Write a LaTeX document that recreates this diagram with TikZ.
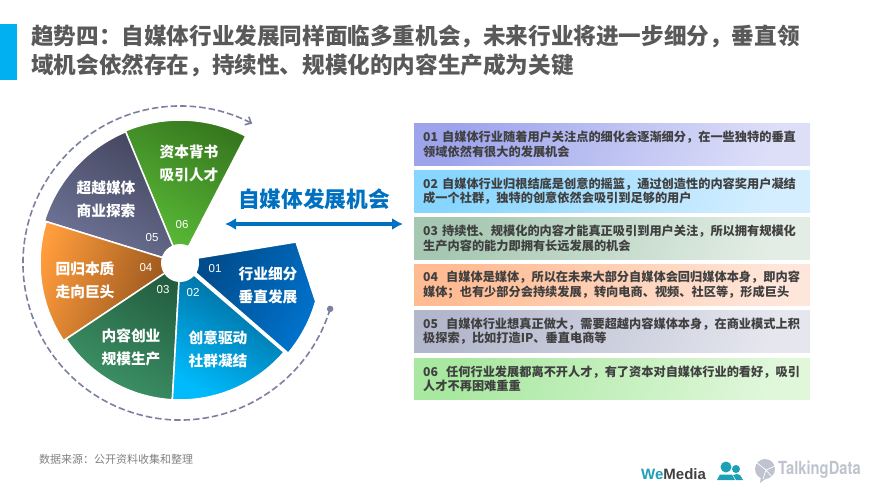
\documentclass[tikz,border=0pt]{standalone}
\usepackage{fontspec}
\setmainfont{Noto Sans CJK SC}
\newfontfamily\numfont{Liberation Sans}
\newfontfamily\logofont{TeX Gyre Heros}
\usetikzlibrary{arrows.meta}
\definecolor{titlegray}{HTML}{595959}
\definecolor{bodygray}{HTML}{404040}
\definecolor{barblue}{HTML}{00B0F0}
\definecolor{headblue}{HTML}{0070C0}
\definecolor{ringgray}{HTML}{7C80A0}
\definecolor{weteal}{HTML}{1D9FB5}
\definecolor{tdgray}{HTML}{BFC3D0}
% wheel colours
\definecolor{wedgeAa}{HTML}{004C8C}\definecolor{wedgeAb}{HTML}{0072CC}
\definecolor{wedgeBa}{HTML}{006090}\definecolor{wedgeBb}{HTML}{00BAFB}
\definecolor{wedgeCa}{HTML}{235E40}\definecolor{wedgeCb}{HTML}{3E9468}
\definecolor{wedgeDa}{HTML}{FF9C3C}\definecolor{wedgeDb}{HTML}{8E4F1A}
\definecolor{wedgeEa}{HTML}{44465E}\definecolor{wedgeEb}{HTML}{70769A}
\definecolor{wedgeFa}{HTML}{37781F}\definecolor{wedgeFb}{HTML}{5CC038}
% box colours
\definecolor{boxAa}{HTML}{9DA4EC}\definecolor{boxAb}{HTML}{DDDFF8}
\definecolor{boxBa}{HTML}{87D6FF}\definecolor{boxBb}{HTML}{D5EEFF}
\definecolor{boxCa}{HTML}{A6C8B2}\definecolor{boxCb}{HTML}{E3EDE5}
\definecolor{boxDa}{HTML}{FFBB92}\definecolor{boxDb}{HTML}{FFE6DA}
\definecolor{boxEa}{HTML}{B3B7CC}\definecolor{boxEb}{HTML}{E5E6EE}
\definecolor{boxFa}{HTML}{A8E8A0}\definecolor{boxFb}{HTML}{E0F7DA}
\tikzset{
    wedge/.style n args={3}{left color=#1, right color=#2, shading angle=#3, draw=white, line width=1.5pt},
    wedgetext/.style={text=white, align=center, inner sep=0pt, font=\fontsize{14.7}{23}\selectfont\bfseries},
    wedgenum/.style={text=white, inner sep=0pt, font=\fontsize{11.5}{14}\selectfont\numfont},
    chance/.style n args={3}{left color=#1, right color=#2, shading angle=70, anchor=north west,
        minimum height=#3, text width=378pt, inner xsep=9pt, inner ysep=0pt, align=left,
        text=bodygray, font=\fontsize{12.2}{14.5}\selectfont\bfseries}
}
\begin{document}
\begin{tikzpicture}[x=1pt, y=1pt]
    \useasboundingbox (0,0) rectangle (880,-495);

    % Title
    \fill[barblue] (0,-24) rectangle (17,-80);
    \node[anchor=west, inner sep=0pt, align=left, text=titlegray, font=\fontsize{22.6}{29}\selectfont\bfseries] (title) at (31,-51)
        {趋势四：自媒体行业发展同样面临多重机会，未来行业将进一步细分，垂直领\\
         域机会依然存在，持续性、规模化的内容生产成为关键};

    % Wheel
    \begin{scope}[shift={(180,-263)}]
        \shade[wedge={wedgeFa}{wedgeFb}{-30}] (0,0) -- (112.5:143) arc (112.5:62.6:143) -- cycle;
        \shade[wedge={wedgeEa}{wedgeEb}{-30}] (0,0) -- (162.8:142) arc (162.8:112.5:142) -- cycle;
        \shade[wedge={wedgeDa}{wedgeDb}{70}] (0,0) -- (213.7:140) arc (213.7:162.8:140) -- cycle;
        \shade[wedge={wedgeCa}{wedgeCb}{-30}] (0,0) -- (266.8:137) arc (266.8:213.7:137) -- cycle;
        \shade[wedge={wedgeBa}{wedgeBb}{-30}] (0,0) -- (319.4:137) arc (319.4:266.8:137) -- cycle;
        \shade[wedge={wedgeAa}{wedgeAb}{60}] (18,5) -- (116,21) -- (135.7,-38.3) arc (-15.8:-40:140) -- (16,-10) -- cycle;
        \node[circle, fill=white, minimum size=38pt, inner sep=0pt] (hub) at (0,0) {};

        % Dashed ring
        \node[circle, fill=ringgray, minimum size=6.5pt, inner sep=0pt] (ringstart) at (-17:157) {};
        \coordinate (ringend) at (62.6:157);
        \draw[ringgray, line width=1.6pt, dash pattern=on 6.5pt off 3pt, -{Straight Barb[length=5pt,width=9pt]}]
            (ringstart.center) arc (-17:-297.4:157);
    \end{scope}

    % Wheel labels
    \node[wedgetext] (capA) at (268,-285.5) {行业细分\\垂直发展};
    \node[wedgetext] (capB) at (218,-349.5) {创意驱动\\社群凝结};
    \node[wedgetext] (capC) at (131,-347.5) {内容创业\\规模生产};
    \node[wedgetext] (capD) at (85,-280.5) {回归本质\\走向巨头};
    \node[wedgetext] (capE) at (106,-199) {超越媒体\\商业探索};
    \node[wedgetext] (capF) at (189,-163.5) {资本背书\\吸引人才};
    \node[wedgenum] (numA) at (215,-269) {01};
    \node[wedgenum] (numB) at (193,-293) {02};
    \node[wedgenum] (numC) at (163,-290) {03};
    \node[wedgenum] (numD) at (146,-268) {04};
    \node[wedgenum] (numE) at (152,-238) {05};
    \node[wedgenum] (numF) at (182,-225) {06};

    % Heading with double arrow
    \node[inner sep=0pt, text=headblue, font=\fontsize{21.7}{26}\selectfont\bfseries] (head) at (314,-199) {自媒体发展机会};
    \coordinate (arrowL) at (225,-224);
    \coordinate (arrowR) at (403,-224);
    \draw[headblue, line width=3.5pt, {Latex[length=11pt,width=12pt]}-{Latex[length=11pt,width=12pt]}] (arrowL) -- (arrowR);

    % Boxes
    \node[chance={boxAa}{boxAb}{42pt}] (boxA) at (414,-123) {01 自媒体行业随着用户关注点的细化会逐渐细分，在一些独特的垂直\\领域依然有很大的发展机会};
    \node[chance={boxBa}{boxBb}{42pt}] (boxB) at (414,-170) {02 自媒体行业归根结底是创意的摇篮，通过创造性的内容奖用户凝结\\成一个社群，独特的创意依然会吸引到足够的用户};
    \node[chance={boxCa}{boxCb}{42pt}] (boxC) at (414,-217) {03 持续性、规模化的内容才能真正吸引到用户关注，所以拥有规模化\\生产内容的能力即拥有长远发展的机会};
    \node[chance={boxDa}{boxDb}{41pt}] (boxD) at (414,-264) {04 \ 自媒体是媒体，所以在未来大部分自媒体会回归媒体本身，即内容\\媒体；也有少部分会持续发展，转向电商、视频、社区等，形成巨头};
    \node[chance={boxEa}{boxEb}{42pt}] (boxE) at (414,-310) {05 \ 自媒体行业想真正做大，需要超越内容媒体本身，在商业模式上积\\极探索，比如打造IP、垂直电商等};
    \node[chance={boxFa}{boxFb}{41pt}] (boxF) at (414,-358) {06 \ 任何行业发展都离不开人才，有了资本对自媒体行业的看好，吸引\\人才不再困难重重};

    % Source
    \node[anchor=west, inner sep=0pt, text=black!50, font=\fontsize{11}{13}\selectfont] (source) at (39,-459) {数据来源：公开资料收集和整理};

    % WeMedia logo
    \node[anchor=west, inner sep=0pt, font=\fontsize{15}{18}\selectfont\numfont\bfseries] (wemedia) at (641,-474) {\textcolor{weteal}{We}\textcolor{bodygray}{Media}};
    \fill[weteal] (726,-467) circle (5.5);
    \fill[weteal] (717,-480) -- (720,-474.5) -- (732,-474.5) -- (735,-480) -- cycle;
    \fill[weteal] (736,-469) circle (4);
    \fill[weteal] (736,-480) -- (733,-475) -- (737,-474) -- (740,-475) -- (743,-480) -- cycle;

    % TalkingData logo
    \fill[tdgray] (765,-469) circle (10);
    \fill[tdgray] (761,-476) -- (760,-483) -- (768,-477) -- cycle;
    \draw[white, line width=0.7pt] (757,-463) -- (766,-470) -- (775,-466) (766,-470) -- (763,-479) (766,-470) -- (772,-477);
    \node[anchor=west, inner sep=0pt, xscale=0.82, text=tdgray, font=\fontsize{18}{20}\selectfont\logofont\bfseries] (talkingdata) at (778,-470) {TalkingData};
\end{tikzpicture}
\end{document}
